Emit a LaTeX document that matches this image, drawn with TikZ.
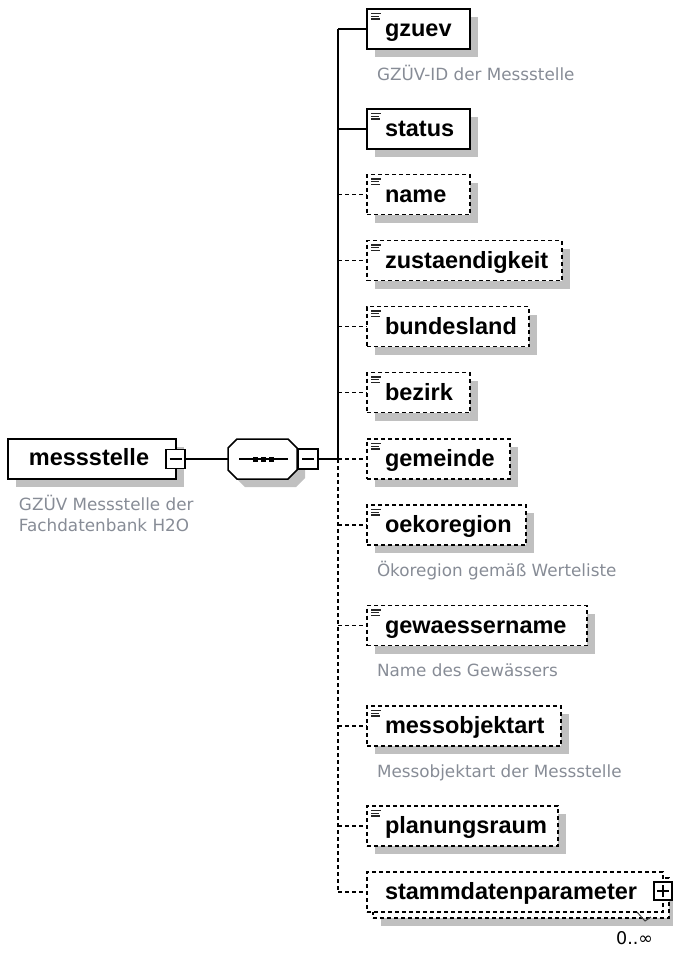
\documentclass[tikz,border=0pt]{standalone}
\usepackage{fontspec}
\setmainfont{Liberation Sans}
\newfontfamily\notefont{DejaVu Sans}
\definecolor{shadowgray}{RGB}{192,192,192}
\definecolor{notegray}{RGB}{135,140,150}

% one schema element: name, centre y, right edge x, box style, label
\newcommand\xsdelem[5]{%
  \fill[shadowgray] (375,{#2-12}) rectangle ({#3+8},{#2+28});
  \node[#4, minimum width={(#3-367)*1pt}, minimum height=40pt] (#1) at ({(367+#3)/2},#2) {};
  \draw[iconline] ([shift={(4,4.5)}]#1.north west) -- ++(10,0)
                  ([shift={(4,7.2)}]#1.north west) -- ++(7.5,0)
                  ([shift={(4,9.9)}]#1.north west) -- ++(9,0);
  \node[elname] (#1-t) at (385,{#2+7.5}) {#5};
  \coordinate (j-#1) at (338,#2);
}

\begin{document}
\begin{tikzpicture}[x=1pt,y=-1pt,
  every node/.style={outer sep=0pt},
  reqbox/.style={draw, line width=1.5pt, fill=white, inner sep=0pt},
  optbox/.style={reqbox, dash pattern=on 4pt off 3pt},
  reqlink/.style={line width=1.5pt},
  optlink/.style={line width=1.5pt, dash pattern=on 4pt off 3pt},
  elname/.style={font=\fontsize{23.5}{28}\selectfont\bfseries, anchor=base west, inner sep=0pt},
  note/.style={font=\notefont\fontsize{16.8}{21}\selectfont, text=notegray, anchor=base west, inner sep=0pt, align=left},
  iconline/.style={line width=1.3pt, draw=black!85},
  togglebox/.style={draw, fill=white, line width=1.4pt, minimum size=19pt, inner sep=0pt}
]
\useasboundingbox (0,0) rectangle (675,954);

% ---- root element ----
\fill[shadowgray] (16,447) rectangle (184,487);
\node[reqbox, minimum width=168pt, minimum height=40pt] (root) at (92,459) {};
\node[font=\fontsize{23.5}{28}\selectfont\bfseries, anchor=base, inner sep=0pt] (root-t) at (89,465.5) {messstelle};
\node[togglebox] (rootminus) at (175.5,459) {};
\draw[line width=1.3pt] ([xshift=-6pt]rootminus.center) -- ([xshift=6pt]rootminus.center);
\node[note] (root-c) at (19,531) {GZÜV Messstelle der\\Fachdatenbank H2O};

% ---- sequence compositor ----
\fill[shadowgray] (236,456) -- (245,447) -- (296,447) -- (305,456) -- (305,478)
  -- (296,487) -- (245,487) -- (236,478) -- cycle;
\node[minimum width=69pt, minimum height=40pt, inner sep=0pt] (seq) at (262.5,459) {};
\draw[line width=1.5pt, fill=white] (228,448) -- (237,439) -- (288,439) -- (297,448)
  -- (297,470) -- (288,479) -- (237,479) -- (228,470) -- cycle;
\draw[line width=1.5pt] (239,459) -- (288,459);
\foreach \dx in {255,263,271}
  \fill (\dx-2.5,456.5) rectangle (\dx+2.5,461.5);
\node[togglebox, minimum size=20pt] (seqminus) at (308,459) {};
\draw[line width=1.3pt] ([xshift=-6pt]seqminus.center) -- ([xshift=6pt]seqminus.center);
\coordinate (seqjoin) at (338,459);

\draw[reqlink] (rootminus.east) -- (seq.west);
\draw[reqlink] (seqminus.east) -- (seqjoin);

% ---- child elements ----
\xsdelem{gzuev}{29}{470}{reqbox}{gzuev}
\xsdelem{status}{129}{470}{reqbox}{status}
\xsdelem{name}{194.5}{470}{optbox}{name}
\xsdelem{zust}{260.5}{562}{optbox}{zustaendigkeit}
\xsdelem{bund}{326.5}{529}{optbox}{bundesland}
\xsdelem{bezirk}{392.5}{470}{optbox}{bezirk}
\xsdelem{gemeinde}{459}{510}{optbox}{gemeinde}
\xsdelem{oeko}{525}{526}{optbox}{oekoregion}
\xsdelem{gew}{625.5}{587}{optbox}{gewaessername}
\xsdelem{messo}{726}{561}{optbox}{messobjektart}
\xsdelem{plan}{826}{558}{optbox}{planungsraum}

\node[note] (gzuev-c) at (377,80) {GZÜV-ID der Messstelle};
\node[note] (oeko-c) at (377,576) {Ökoregion gemäß Werteliste};
\node[note] (gew-c) at (377,676.5) {Name des Gewässers};
\node[note] (messo-c) at (377,777) {Messobjektart der Messstelle};

% ---- repeated element with children ----
\fill[shadowgray] (381,886) rectangle (673,926);
\node[optbox, minimum width=296pt, minimum height=40pt] (stamm-back) at (521,898) {};
\node[optbox, minimum width=296pt, minimum height=40pt] (stamm) at (515,892) {};
\node[elname] (stamm-t) at (385,899.5) {stammdatenparameter};
\node[togglebox, minimum size=18pt] (stammplus) at (663,891) {};
\draw[line width=1.3pt] ([xshift=-6pt]stammplus.center) -- ([xshift=6pt]stammplus.center)
  ([yshift=-6pt]stammplus.center) -- ([yshift=6pt]stammplus.center);
\coordinate (j-stamm) at (338,892);
\node[font=\notefont\fontsize{17.5}{20}\selectfont, anchor=base east, inner sep=0pt] (stamm-occ) at (653,944) {0..∞};
\draw[line width=1pt, draw=black!75] (637,912) -- (645,921) -- (651,917);

% ---- connectors ----
\draw[reqlink] (j-gzuev) -- (seqjoin);
\draw[optlink] (seqjoin) -- (j-stamm);
\draw[reqlink] (j-gzuev) -- (gzuev.west);
\draw[reqlink] (j-status) -- (status.west);
\foreach \e in {name,zust,bund,bezirk,gemeinde,oeko,gew,messo,plan,stamm}
  \draw[optlink] (j-\e) -- (\e.west);
\end{tikzpicture}
\end{document}
